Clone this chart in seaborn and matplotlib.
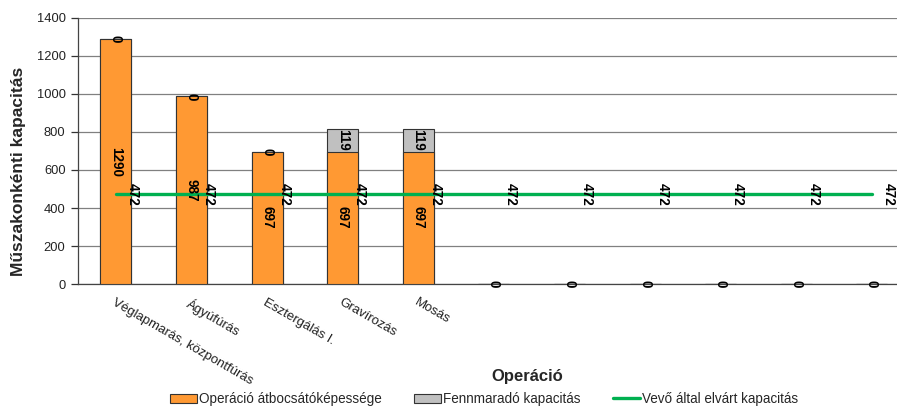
import numpy as np
import pandas as pd
import matplotlib
matplotlib.use("Agg")
import matplotlib.pyplot as plt
import seaborn as sns
from matplotlib.patches import Patch
from matplotlib.lines import Line2D

# ---- data ----
categories = ["Véglapmarás, központfúrás", "Ágyúfúrás", "Esztergálás I.",
              "Gravírozás", "Mosás", "", "", "", "", "", ""]
throughput = [1290, 987, 697, 697, 697, 0, 0, 0, 0, 0, 0]
remaining = [0, 0, 0, 119, 119, 0, 0, 0, 0, 0, 0]
required = [472] * 11
yticks = [0, 200, 400, 600, 800, 1000, 1200, 1400]

series_names = ["Operáció átbocsátóképessége", "Fennmaradó kapacitás",
                "Vevő által elvárt kapacitás"]

ORANGE = "#FF9933"
GREY = "#C0C0C0"
GREEN = "#00B050"
EDGE = "#333333"

sns.set_style("white")
plt.rcParams["font.family"] = ["Liberation Sans", "DejaVu Sans"]

pos = np.arange(len(categories))
df = pd.DataFrame({"pos": pos,
                   "throughput": throughput,
                   "remaining": remaining,
                   "required": required})
df["total"] = df["throughput"] + df["remaining"]

fig = plt.figure(figsize=(8.97, 4.07), dpi=100)
ax = fig.add_axes([0.0870, 0.3022, 0.9271, 0.6536])

sns.barplot(data=df, x="pos", y="total", color=GREY, saturation=1,
            width=0.41, edgecolor=EDGE, linewidth=0.8, ax=ax, zorder=2)
sns.barplot(data=df, x="pos", y="throughput", color=ORANGE, saturation=1,
            width=0.41, edgecolor=EDGE, linewidth=0.8, ax=ax, zorder=3)
sns.lineplot(data=df, x="pos", y="required", color=GREEN, linewidth=2.4,
             ax=ax, zorder=4)

ax.set_xlim(-0.5, len(categories) - 0.5)
ax.set_ylim(yticks[0], yticks[-1])
ax.set_yticks(yticks)
ax.set_yticklabels([str(v) for v in yticks], fontsize=9.25, color="#222222")
ax.yaxis.grid(True, color="#808080", linewidth=0.9)
ax.set_axisbelow(True)

# x ticks: labels at centers, marks at boundaries
ax.set_xticks(pos)
ax.set_xticklabels(categories, rotation=-30, ha="left", va="top",
                   rotation_mode="anchor", fontsize=9.5, color="#222222")
ax.tick_params(axis="x", which="major", length=0, pad=9)
ax.set_xticks(np.arange(-0.5, len(categories), 1), minor=True)
ax.tick_params(axis="x", which="minor", length=5, width=0.9, color=EDGE,
               direction="out")
ax.tick_params(axis="y", length=5, width=0.9, color=EDGE, direction="out",
               left=True, pad=4)

for s in ["top", "right"]:
    ax.spines[s].set_visible(False)
for s in ["left", "bottom"]:
    ax.spines[s].set_color("#444444")
    ax.spines[s].set_linewidth(0.9)

ax.set_xlabel("")
ax.set_ylabel("Műszakonkénti kapacitás", fontsize=12.5, fontweight="bold")
ax.yaxis.set_label_coords(-0.0625, 0.425)
fig.text(527 / 897, 1 - 376 / 407, "Operáció", ha="center", va="center",
         fontsize=12, fontweight="bold")

# data labels
lab_kw = dict(rotation=-90, ha="center", va="center", fontsize=9.75,
              fontweight="bold", color="black", zorder=6)
for i in pos:
    t, r, q = throughput[i], remaining[i], required[i]
    if t > 0:
        ax.text(i, t / 2, str(t), **lab_kw)
    ax.text(i, t + r / 2, str(r), **lab_kw)
    ax.text(i + 0.23, q, str(q), **lab_kw)

# legend
handles = [Patch(facecolor=ORANGE, edgecolor=EDGE, linewidth=0.8),
           Patch(facecolor=GREY, edgecolor=EDGE, linewidth=0.8),
           Line2D([0], [0], color=GREEN, linewidth=2.4)]
fig.legend(handles, series_names, loc="center",
           bbox_to_anchor=(484 / 897, 8 / 407), ncol=3, frameon=False,
           fontsize=9.75, handlelength=2.0, handletextpad=0.15,
           columnspacing=2.4, borderaxespad=0)

fig.savefig("out.png", dpi=100)
